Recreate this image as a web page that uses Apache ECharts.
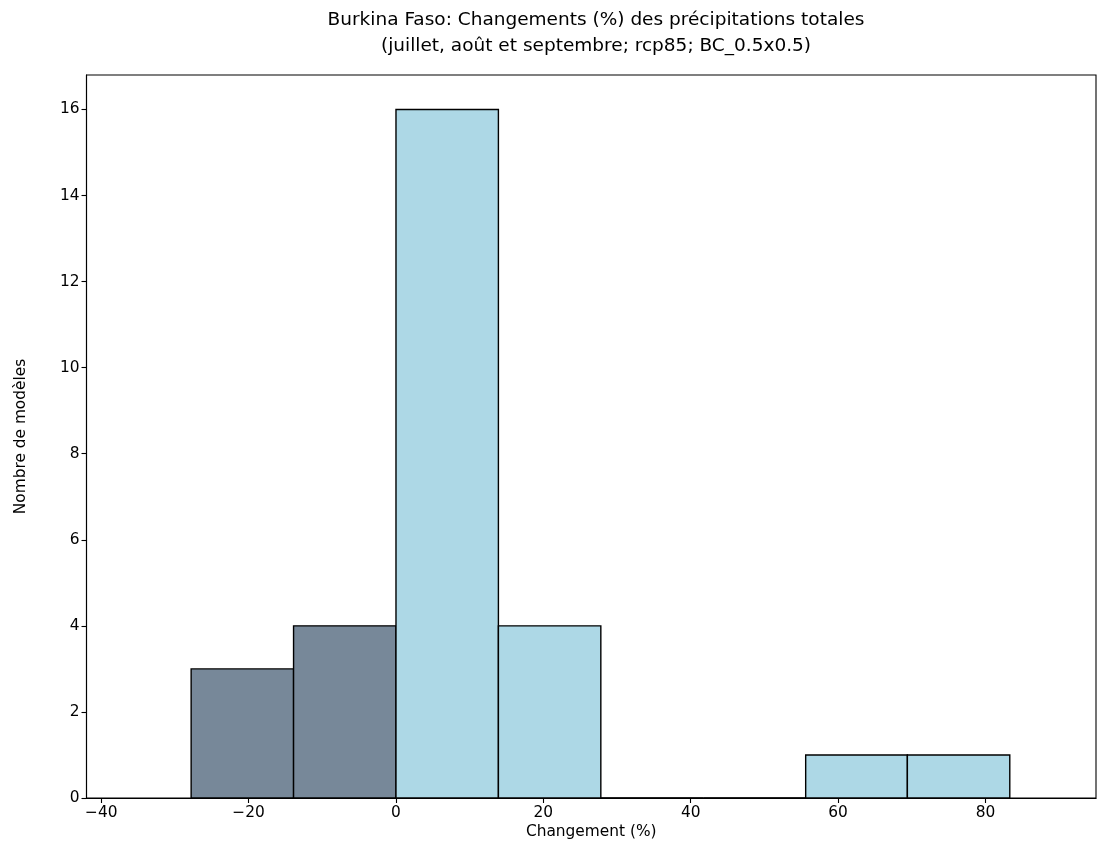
<!DOCTYPE html>
<html>
<head>
<meta charset="utf-8">
<script src="https://cdn.jsdelivr.net/npm/echarts@6/dist/echarts.min.js"></script>
<style>html,body{margin:0;padding:0;background:#fff}#c{width:1107px;height:867px}</style>
</head>
<body>
<div id="c"></div>
<script>
const titleLines = ["Burkina Faso: Changements (%) des précipitations totales", "(juillet, août et septembre; rcp85; BC_0.5x0.5)"];
const xLabel = "Changement (%)";
const yLabel = "Nombre de modèles";
const binEdges = [-27.8, -13.9, 0, 13.9, 27.8, 41.7, 55.6, 69.4, 83.3];
const counts = [3, 4, 16, 4, 0, 0, 1, 1];
const xTicks = [-40, -20, 0, 20, 40, 60, 80];
const yTicks = [0, 2, 4, 6, 8, 10, 12, 14, 16];

const negColor = '#778899';
const posColor = '#ADD8E6';

const data = counts.map((c, i) => [binEdges[i], binEdges[i + 1], c]);

const font = 'DejaVu Sans';
const fs = 15.4;
const chart = echarts.init(document.getElementById('c'), null, {renderer: 'canvas'});
chart.setOption({
  animation: false,
  backgroundColor: '#fff',
  title: {
    text: titleLines.join('\n'),
    left: 591, top: 2, textAlign: 'center',
    textStyle: {fontFamily: font, fontSize: 18.5, fontWeight: 'normal', color: '#000', lineHeight: 26}
  },
  grid: {left: 86.5, right: 11, top: 75, bottom: 69, show: true, borderColor: '#000', borderWidth: 1.1, backgroundColor: 'transparent'},
  xAxis: {
    type: 'value', min: -42, max: 95,
    name: xLabel, nameLocation: 'middle', nameGap: 20,
    nameTextStyle: {fontFamily: font, fontSize: fs, color: '#000'},
    axisLine: {show: true, onZero: false, lineStyle: {color: '#000', width: 1.1}},
    axisTick: {show: true, length: 5, customValues: xTicks, lineStyle: {color: '#000', width: 1.1}},
    axisLabel: {customValues: xTicks, fontFamily: font, fontSize: fs, color: '#000', margin: 7,
      formatter: v => String(v).replace('-', '\u2212')},
    splitLine: {show: false}
  },
  yAxis: {
    type: 'value', min: 0, max: 16.8,
    name: yLabel, nameLocation: 'middle', nameGap: 58, nameRotate: 90,
    nameTextStyle: {fontFamily: font, fontSize: fs, color: '#000'},
    axisLine: {show: true, onZero: false, lineStyle: {color: '#000', width: 1.1}},
    axisTick: {show: true, length: 5, customValues: yTicks, lineStyle: {color: '#000', width: 1.1}},
    axisLabel: {customValues: yTicks, fontFamily: font, fontSize: fs, color: '#000', margin: 7},
    splitLine: {show: false}
  },
  series: [{
    type: 'custom',
    data: data,
    clip: true,
    renderItem: function (params, api) {
      const x0 = api.value(0), x1 = api.value(1), h = api.value(2);
      const p0 = api.coord([x0, 0]);
      const p1 = api.coord([x1, h]);
      return {
        type: 'rect',
        shape: {x: p0[0], y: p1[1], width: p1[0] - p0[0], height: p0[1] - p1[1]},
        style: {fill: x1 <= 0 ? negColor : posColor, stroke: '#000', lineWidth: 1.4}
      };
    }
  }]
});
</script>
</body>
</html>
